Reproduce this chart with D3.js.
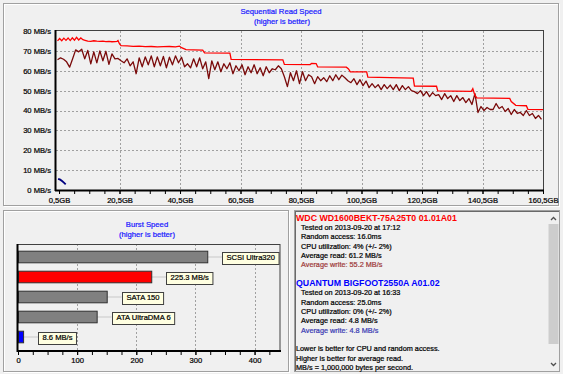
<!DOCTYPE html>
<html lang="en">
  <head>
    <meta charset="UTF-8" />
    <title>Sequential Read Speed / Burst Speed</title>
    <script src="https://d3js.org/d3.v7.min.js"></script>
    <style>
      body {
        margin: 0;
        background: #f0f0f0;
        font-family: 'Liberation Sans', Arial, sans-serif;
      }
      svg {
        display: block;
      }
      svg text {
        stroke-width: 0.22px;
      }
      .axis text {
        font-size: 7.6px;
        fill: #000;
        stroke: #000;
      }
      .axis line {
        stroke: #000;
      }
      .grid {
        stroke: #a0a0a0;
        stroke-dasharray: 2, 2;
      }
    </style>
  </head>
  <body>
    <script>
      // ---- data ----
      // red line (GB, MB/s)
      const readSpeed = [
        [0, 75.0], [0.7, 76.2], [1.4, 75.1], [2.1, 76.4], [2.8, 75.3], [3.5, 76.5],
        [4.2, 75.2], [4.9, 76.6], [5.6, 75.4], [6.3, 76.8], [7, 75.5], [7.7, 76.5],
        [8.4, 75.6], [9.1, 75.3], [10, 74.9], [11, 74.8], [12, 75.1], [13, 74.9],
        [14, 74.8], [15, 74.9], [16, 74.7], [17, 74.8], [18, 74.6], [19, 74.7],
        [19.7, 74.8], [20, 75.2], [20.5, 73.5], [21, 72.6], [23, 72.5], [25, 72.3],
        [27, 72.4], [29, 72.1], [31, 72.2], [33, 72.0], [35, 72.1], [37, 72.2],
        [39, 72.0], [40.3, 72.4], [41, 71.6], [42.5, 70.6], [45, 70.5], [48, 70.4],
        [48.6, 69.0], [57, 68.9], [57.4, 65.7], [65, 65.6], [74.5, 65.5], [75, 63.2],
        [83.5, 63.1], [84, 63.7], [85.5, 63.6], [86, 62.0], [95.5, 61.8], [96.2, 60.9],
        [96.8, 59.5], [102.2, 59.4], [102.6, 56.8], [110, 56.5], [117.6, 56.3],
        [118, 52.3], [125.3, 52.2], [125.7, 49.9], [136.8, 49.6], [137.3, 51.0],
        [137.9, 48.0], [138.6, 46.4], [149.5, 46.1], [150, 44.5], [151.5, 42.6],
        [155, 42.4], [155.5, 40.6], [160.5, 40.4],
      ];

      // dark red line, one value per GB from 0 to 160
      const writeSpeed = [
        65.5, 66.5, 65.8, 64.5, 61.8, 66, 70.5, 69.5, 70.8, 66,
        70.2, 63.5, 69.5, 64, 70, 65, 69.8, 63.2, 68.5, 66,
        66.2, 65, 64, 66, 62.5, 64.5, 58.5, 66.5, 62, 67,
        63, 67.5, 62, 67, 62.5, 67.2, 61.5, 66.8, 63, 67.5,
        64, 66.8, 62, 63.5, 61.5, 66, 62, 66.5, 61, 64.5,
        56, 65, 60.5, 64.5, 59.5, 63.5, 61, 64, 58.5, 62.5,
        60, 63, 58, 62, 59, 63, 58.5, 61.5, 57.5, 62,
        59, 61, 60.5, 62.5, 61, 57, 52, 59, 55, 60,
        53.5, 59.5, 55, 58, 57, 53.5, 57, 55, 56.5, 54.5,
        57.5, 55, 58, 55.5, 57.8, 56.5, 55, 54, 56, 53,
        55.5, 52.5, 54.8, 51.5, 53.5, 51.5, 53, 50.5, 53, 51,
        52.8, 50.5, 53, 50, 52.5, 50.5, 52, 50, 49.5, 48.5,
        50, 47.5, 49.5, 47, 49, 47.5, 48, 45.5, 48.5, 46,
        47.5, 44.5, 47.5, 45, 46.5, 44, 46, 43, 48.5, 39,
        42, 40, 41.5, 40.5, 40.5, 43.5, 41, 42, 39.5, 41,
        38, 40.5, 38.5, 39, 37.5, 40, 37.5, 38.5, 36, 37.5,
        35.5,
      ];

      // blue line (GB, MB/s)
      const quantumSpeed = [
        [0.2, 5.6], [0.9, 5.2], [1.6, 4.4], [2.2, 3.6], [2.7, 2.8],
      ];

      const gbTicks = [0.5, 20.5, 40.5, 60.5, 80.5, 100.5, 120.5, 140.5, 160.5];
      const mbTicks = [0, 10, 20, 30, 40, 50, 60, 70, 80];

      const burstNames = ['SCSI Ultra320', 'Drive', 'SATA 150', 'ATA UltraDMA 6', 'Quantum'];
      const burstValues = [320, 225.3, 150, 133, 8.6];
      const burstLabels = ['SCSI Ultra320', '225.3 MB/s', 'SATA 150', 'ATA UltraDMA 6', '8.6 MB/s'];
      const burstColors = ['#808080', '#ff0000', '#808080', '#808080', '#0000ff'];
      const burstTicks = [0, 100, 200, 300, 400];

      const infoLines = [
        { t: 'WDC WD1600BEKT-75A25T0 01.01A01', c: '#ff0000', b: true },
        { t: 'Tested on 2013-09-20 at 17:12', c: '#000', i: true },
        { t: 'Random access: 16.0ms', c: '#000', i: true },
        { t: 'CPU utilization: 4% (+/- 2%)', c: '#000', i: true },
        { t: 'Average read: 61.2 MB/s', c: '#000', i: true },
        { t: 'Average write: 55.2 MB/s', c: '#a03c3c', i: true },
        { t: '' },
        { t: 'QUANTUM BIGFOOT2550A A01.02', c: '#0000ff', b: true },
        { t: 'Tested on 2013-09-20 at 16:33', c: '#000', i: true },
        { t: 'Random access: 25.0ms', c: '#000', i: true },
        { t: 'CPU utilization: 0% (+/- 2%)', c: '#000', i: true },
        { t: 'Average read: 4.8 MB/s', c: '#000', i: true },
        { t: 'Average write: 4.8 MB/s', c: '#3c3cb4', i: true },
        { t: '' },
        { t: 'Lower is better for CPU and random access.', c: '#000' },
        { t: 'Higher is better for average read.', c: '#000' },
        { t: 'MB/s = 1,000,000 bytes per second.', c: '#000' },
      ];

      const svg = d3
        .select('body')
        .append('svg')
        .attr('width', 563)
        .attr('height', 374);

      svg.append('rect').attr('width', 563).attr('height', 374).attr('fill', '#f0f0f0');

      // etched panel borders
      function panel(x, y, w, h) {
        svg.append('rect').attr('x', x + 1).attr('y', y + 1).attr('width', w).attr('height', h)
          .attr('fill', 'none').attr('stroke', '#ffffff');
        svg.append('rect').attr('x', x).attr('y', y).attr('width', w).attr('height', h)
          .attr('fill', 'none').attr('stroke', '#a0a0a0');
      }
      panel(3.5, 3.5, 555, 202);
      panel(3.5, 210.5, 285, 161);

      function title(xc, yb, txt) {
        svg.append('text').attr('x', xc).attr('y', yb).attr('text-anchor', 'middle')
          .attr('font-size', 7.7).attr('fill', '#2020ff').attr('stroke', '#2020ff')
          .attr('stroke-width', 0.15).text(txt);
      }

      // ---- sequential read chart ----
      const x = d3.scaleLinear().domain([-0.5, 160.5]).range([56, 543]);
      const y = d3.scaleLinear().domain([0, 80]).range([190, 31]);

      title(281, 13.5, 'Sequential Read Speed');
      title(282, 23.5, '(higher is better)');

      svg.append('g').selectAll('line').data(mbTicks.slice(1, -1)).join('line')
        .attr('class', 'grid')
        .attr('x1', 56).attr('x2', 543)
        .attr('y1', (d) => Math.round(y(d)) + 0.5).attr('y2', (d) => Math.round(y(d)) + 0.5);
      svg.append('g').selectAll('line').data(gbTicks.slice(1, -1)).join('line')
        .attr('class', 'grid')
        .attr('x1', (d) => Math.round(x(d)) + 0.5).attr('x2', (d) => Math.round(x(d)) + 0.5)
        .attr('y1', 31).attr('y2', 190);

      const line = d3.line().x((d) => x(d[0])).y((d) => y(d[1]));

      svg.append('path').datum(writeSpeed.map((v, i) => [i, v]))
        .attr('fill', 'none').attr('stroke', '#7a0a0a').attr('stroke-width', 1.3)
        .attr('stroke-linejoin', 'round').attr('d', line);
      svg.append('path').datum(readSpeed)
        .attr('fill', 'none').attr('stroke', '#ff0000').attr('stroke-width', 1.3).attr('d', line);
      svg.append('path').datum(quantumSpeed)
        .attr('fill', 'none').attr('stroke', '#000080').attr('stroke-width', 1.8).attr('d', line);

      svg.append('rect').attr('x', 55.5).attr('y', 30.5).attr('width', 488).attr('height', 160)
        .attr('fill', 'none').attr('stroke', '#404040');
      svg.append('line').attr('x1', 55.5).attr('x2', 55.5).attr('y1', 30).attr('y2', 191)
        .attr('stroke', '#000').attr('stroke-width', 2);
      svg.append('line').attr('x1', 55).attr('x2', 544).attr('y1', 190.5).attr('y2', 190.5)
        .attr('stroke', '#000').attr('stroke-width', 2);

      svg.append('g').attr('class', 'axis').attr('transform', 'translate(0,191)')
        .call(d3.axisBottom(x).tickValues(d3.range(0.5, 161, 5)).tickSize(3).tickFormat(''))
        .call((g) => g.select('.domain').remove());
      svg.append('g').attr('class', 'axis').attr('transform', 'translate(0,191)')
        .call(d3.axisBottom(x).tickValues(gbTicks).tickSize(3).tickPadding(3.5)
          .tickFormat((d) => String(d).replace('.', ',') + 'GB'))
        .call((g) => g.select('.domain').remove());
      svg.append('g').attr('class', 'axis').attr('transform', 'translate(55,0)')
        .call(d3.axisLeft(y).tickValues(mbTicks).tickSize(0).tickPadding(4)
          .tickFormat((d) => d + ' MB/s'))
        .call((g) => g.select('.domain').remove());

      // ---- burst speed chart ----
      const bx = d3.scaleLinear().domain([0, 443]).range([18, 280]);
      const by = d3.scaleBand().domain(burstNames).range([246.5, 346.5])
        .paddingInner(0.42).paddingOuter(0.21);

      title(147, 226.5, 'Burst Speed');
      title(147, 237, '(higher is better)');

      svg.append('g').selectAll('line').data(burstTicks.slice(1)).join('line')
        .attr('class', 'grid')
        .attr('x1', (d) => Math.round(bx(d)) + 0.5).attr('x2', (d) => Math.round(bx(d)) + 0.5)
        .attr('y1', 244).attr('y2', 351);

      const bars = svg.append('g').selectAll('g').data(burstNames).join('g');
      bars.append('line')
        .attr('x1', (d, i) => bx(burstValues[i])).attr('x2', (d, i) => bx(burstValues[i]) + 15)
        .attr('y1', (d) => by(d) + by.bandwidth() / 2 + 0.5)
        .attr('y2', (d) => by(d) + by.bandwidth() / 2 + 0.5)
        .attr('stroke', '#c8c8c8');
      bars.append('rect')
        .attr('x', bx(0) + 0.5).attr('y', (d) => by(d) + 0.5)
        .attr('width', (d, i) => bx(burstValues[i]) - bx(0))
        .attr('height', by.bandwidth())
        .attr('fill', (d, i) => burstColors[i]).attr('stroke', '#303030');
      bars.each(function (d, i) {
        const g = d3.select(this);
        const cy = by(d) + by.bandwidth() / 2 + 1;
        const bx0 = Math.round(bx(burstValues[i]) + 15) + 0.5;
        const box = g.append('rect').attr('fill', '#ffffe1').attr('stroke', '#404040');
        const t = g.append('text').attr('x', bx0 + 4).attr('y', cy + 2.7)
          .attr('font-size', 7.6).attr('stroke', '#000').text(burstLabels[i]);
        const w = t.node().getComputedTextLength();
        box.attr('x', bx0).attr('y', Math.round(cy - 6) + 0.5).attr('width', w + 8).attr('height', 12);
      });

      svg.append('rect').attr('x', 17.5).attr('y', 244.5).attr('width', 262.5).attr('height', 106)
        .attr('fill', 'none').attr('stroke', '#404040');
      svg.append('line').attr('x1', 17.5).attr('x2', 17.5).attr('y1', 244).attr('y2', 352)
        .attr('stroke', '#000').attr('stroke-width', 2);
      svg.append('line').attr('x1', 17).attr('x2', 281).attr('y1', 351).attr('y2', 351)
        .attr('stroke', '#000').attr('stroke-width', 2);

      svg.append('g').attr('class', 'axis').attr('transform', 'translate(0,352)')
        .call(d3.axisBottom(bx).tickValues(d3.range(0, 426, 25)).tickSize(3).tickFormat(''))
        .call((g) => g.select('.domain').remove());
      svg.append('g').attr('class', 'axis').attr('transform', 'translate(0,352)')
        .call(d3.axisBottom(bx).tickValues(burstTicks).tickSize(3).tickPadding(2.5))
        .call((g) => g.select('.domain').remove());

      // ---- info text box ----
      svg.append('rect').attr('x', 294.5).attr('y', 210.5).attr('width', 265).attr('height', 161)
        .attr('fill', '#f0f0f0').attr('stroke', '#a0a0a0');
      svg.append('line').attr('x1', 295).attr('x2', 559).attr('y1', 211.5).attr('y2', 211.5)
        .attr('stroke', '#696969');
      svg.append('line').attr('x1', 295.5).attr('x2', 295.5).attr('y1', 211).attr('y2', 371)
        .attr('stroke', '#696969');

      // scrollbar
      svg.append('rect').attr('x', 548).attr('y', 212).attr('width', 11).attr('height', 159).attr('fill', '#f0f0f0');
      svg.append('rect').attr('x', 548.5).attr('y', 224).attr('width', 10).attr('height', 120).attr('fill', '#cdcdcd');
      svg.append('path').attr('d', 'M551,220 L553.5,217.5 L556,220').attr('fill', 'none')
        .attr('stroke', '#505050').attr('stroke-width', 1.3);
      svg.append('path').attr('d', 'M551,363 L553.5,365.5 L556,363').attr('fill', 'none')
        .attr('stroke', '#505050').attr('stroke-width', 1.3);

      svg.append('g').selectAll('text').data(infoLines).join('text')
        .attr('x', (d) => (d.i ? 301 : 296))
        .attr('y', (d, i) => 220.6 + i * 9.33)
        .attr('font-size', (d) => (d.b ? 8.8 : 7.3))
        .attr('font-weight', (d) => (d.b ? 'bold' : 'normal'))
        .attr('fill', (d) => d.c || '#000')
        .attr('stroke', (d) => (d.b ? 'none' : d.c || '#000'))
        .attr('stroke-width', 0.15)
        .text((d) => d.t);
    </script>
  </body>
</html>
